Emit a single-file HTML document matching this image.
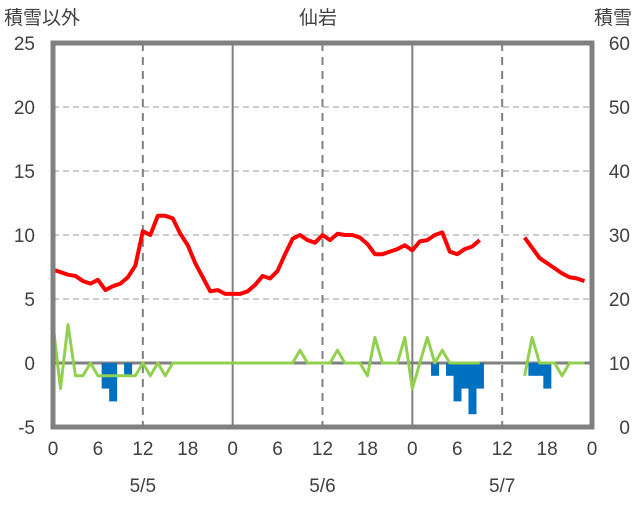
<!DOCTYPE html>
<html><head><meta charset="utf-8"><style>
body{margin:0;background:#fff;}
svg text{font-family:"Liberation Sans","Noto Sans CJK JP",sans-serif;fill:#404040;}
</style></head><body>
<svg width="636" height="501" viewBox="0 0 636 501" id="chart">
<g id="grid"></g>
<g id="marks"></g>
<g id="labels"></g>
<text x="4" y="24" font-size="19">積雪以外</text>
<text x="318" y="24" font-size="19" text-anchor="middle">仙岩</text>
<text x="632" y="24" font-size="19" text-anchor="end">積雪</text>
</svg>
<script>
const leftTicks=[-5,0,5,10,15,20,25];
const rightTicks=[0,10,20,30,40,50,60];
const xTickLabels=["0","6","12","18","0","6","12","18","0","6","12","18","0"];
const dateLabels=["5/5","5/6","5/7"];
const tempHours=[0,1,2,3,4,5,6,7,8,9,10,11,12,13,14,15,16,17,18,19,20,21,22,23,24,25,26,27,28,29,30,31,32,33,34,35,36,37,38,39,40,41,42,43,44,45,46,47,48,49,50,51,52,53,54,55,56,57,null,63,64,65,66,67,68,69,70,71];
const tempValues=[7.3,7.1,6.9,6.8,6.4,6.2,6.5,5.7,6.0,6.2,6.7,7.6,10.3,10.0,11.5,11.5,11.3,10.1,9.2,7.8,6.7,5.6,5.7,5.4,5.4,5.4,5.6,6.1,6.8,6.6,7.2,8.5,9.7,10.0,9.6,9.4,10.0,9.6,10.1,10.0,10.0,9.8,9.3,8.5,8.5,8.7,8.9,9.2,8.8,9.5,9.6,10.0,10.2,8.7,8.5,8.9,9.1,9.6,null,9.8,9.0,8.2,7.8,7.4,7.0,6.7,6.6,6.4];
const greenHours=[0,1,2,3,4,5,6,7,8,9,10,11,12,13,14,15,16,17,18,19,20,21,22,23,24,25,26,27,28,29,30,31,32,33,34,35,36,37,38,39,40,41,42,43,44,45,46,47,48,49,50,51,52,53,54,55,56,57,null,63,64,65,66,67,68,69,70,71];
const greenValues=[3,-2,3,-1,-1,0,-1,-1,-1,-1,-1,-1,0,-1,0,-1,0,0,0,0,0,0,0,0,0,0,0,0,0,0,0,0,0,1,0,0,0,0,1,0,0,0,-1,2,0,0,0,2,-2,0,2,0,1,0,0,0,0,0,null,-1,2,0,0,0,-1,0,0,0];
const barHours=[7,8,10,51,53,54,55,56,57,64,65,66];
const barValues=[-2,-3,-1,-1,-1,-3,-2,-4,-2,-1,-1,-2];
const snowSegments=[[0,57],[63,71]];
const snowValue=0;

const X0=53,X1=592,Y0=427,Y1=43;
const x=h=>X0+(X1-X0)*h/72;
const yL=v=>Y0-(v+5)/30*(Y0-Y1);
const yR=v=>Y0-v/60*(Y0-Y1);
const NS="http://www.w3.org/2000/svg";
function mk(tag,attrs,parent){const e=document.createElementNS(NS,tag);for(const k in attrs)e.setAttribute(k,attrs[k]);parent.appendChild(e);return e;}
const grid=document.getElementById('grid'),marks=document.getElementById('marks'),labels=document.getElementById('labels');
// horizontal grid
leftTicks.forEach(v=>{if(v===-5||v===25||v===0)return;
 const l=mk('line',{x1:X0,x2:X1,y1:yL(v),y2:yL(v),stroke:'#bbb','stroke-width':1.5,'stroke-dasharray':'6,4'},grid);
 
 });
// vertical grid
for(let h=12;h<72;h+=12){const day=h%24===0;
 const l=mk('line',{x1:x(h),x2:x(h),y1:Y1,y2:Y0,stroke:day?'#808080':'#808080','stroke-width':day?2:2,'stroke-dasharray':day?'none':'8,6'},grid);
 
 }
const zl=mk('line',{x1:X0,x2:X1,y1:yL(0),y2:yL(0),stroke:'#808080','stroke-width':3},grid);


// bars
barHours.forEach((h,i)=>{const v=barValues[i];
 const r=mk('rect',{x:x(h-0.5),y:yL(0),width:x(1)-x(0)+0.5,height:yL(v)-yL(0),fill:'#0070c0'},marks);
 
 });
function poly(hs,vs,col,w,name){let segs=[],cur=[];
 hs.forEach((h,i)=>{if(h===null||vs[i]===null){if(cur.length)segs.push(cur);cur=[];}else cur.push(x(h)+','+yL(vs[i]));});
 if(cur.length)segs.push(cur);
 segs.forEach(s=>{const p=mk('polyline',{points:s.join(' '),fill:'none',stroke:col,'stroke-width':w,'stroke-linejoin':'round'},marks);
 
 });}
poly(greenHours,greenValues,'#92d050',3,'green-series-line');
poly(tempHours,tempValues,'#ff0000',4,'temperature-line');
snowSegments.forEach(s=>{const l=mk('line',{x1:x(s[0]),x2:x(s[1]),y1:yR(snowValue)-1,y2:yR(snowValue)-1,stroke:'#7030a0','stroke-width':3},marks);
 
 });
// frame
const fr=mk('rect',{x:X0,y:Y1,width:X1-X0,height:Y0-Y1,fill:'none',stroke:'#808080','stroke-width':5},marks);


leftTicks.forEach(v=>{const t=mk('text',{x:35,y:yL(v)+7,'font-size':19,'text-anchor':'end'},labels);t.textContent=v;
 
 });
rightTicks.forEach(v=>{const t=mk('text',{x:630,y:yR(v)+7,'font-size':19,'text-anchor':'end'},labels);t.textContent=v;
 
 });
xTickLabels.forEach((s,i)=>{const t=mk('text',{x:x(i*6),y:455,'font-size':19,'text-anchor':'middle'},labels);t.textContent=s;
 
 });
dateLabels.forEach((s,i)=>{const t=mk('text',{x:x(12+24*i),y:492,'font-size':19,'text-anchor':'middle'},labels);t.textContent=s;
 
 });
</script>
</body></html>
